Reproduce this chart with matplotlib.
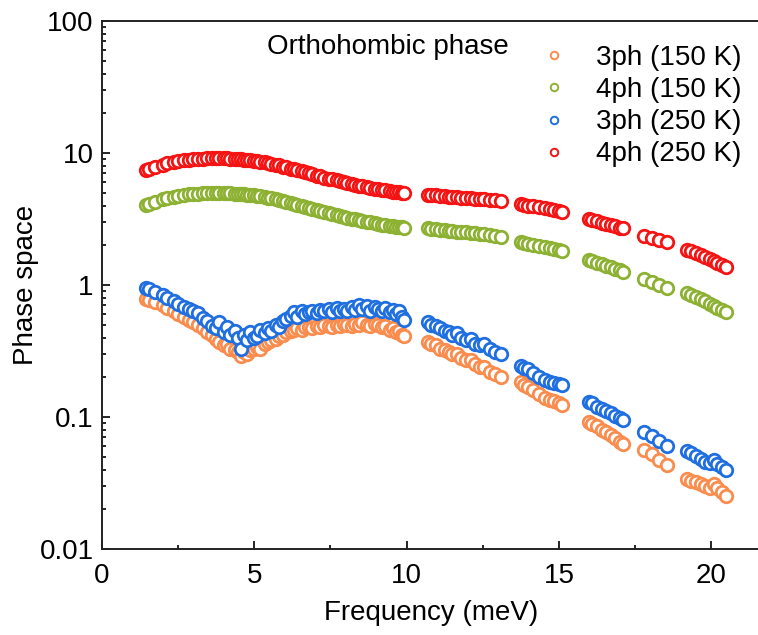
import matplotlib
matplotlib.use("Agg")
import matplotlib.pyplot as plt
import numpy as np
from matplotlib.ticker import LogLocator, MultipleLocator, NullFormatter, FixedFormatter, FixedLocator

plt.rcParams['font.family'] = ['Liberation Sans', 'DejaVu Sans']

# frequencies (meV), shared by all four series
freq = [1.45, 1.55, 1.75, 2.0, 2.15, 2.35, 2.5, 2.7, 2.85, 3.0,
        3.15, 3.3, 3.45, 3.6, 3.75, 3.85, 4.0, 4.1, 4.2, 4.35,
        4.45, 4.55, 4.65, 4.75, 4.85, 5.0, 5.1, 5.2, 5.35, 5.45,
        5.55, 5.7, 5.8, 5.95, 6.05, 6.2, 6.3, 6.4, 6.55, 6.65,
        6.8, 6.9, 7.05, 7.15, 7.3, 7.45, 7.55, 7.7, 7.8, 7.95,
        8.05, 8.2, 8.3, 8.45, 8.55, 8.7, 8.8, 8.95, 9.05, 9.2,
        9.3, 9.45, 9.55, 9.65, 9.75, 9.85, 9.9,
        10.7, 10.8, 10.95, 11.1, 11.25, 11.4, 11.5, 11.65, 11.8, 11.95,
        12.1, 12.25, 12.4, 12.55, 12.75, 12.9, 13.1,
        13.75, 13.85, 14.0, 14.15, 14.35, 14.55, 14.7, 14.85, 15.0, 15.1,
        16.0, 16.1, 16.25, 16.4, 16.55, 16.7, 16.85, 17.0, 17.1,
        17.8, 18.05, 18.3, 18.55,
        19.2, 19.35, 19.5, 19.65, 19.8, 19.95, 20.1, 20.2, 20.35, 20.5]

ph3_150 = [0.79, 0.77, 0.74, 0.71, 0.67, 0.63, 0.60, 0.57, 0.54, 0.52,
           0.50, 0.47, 0.44, 0.42, 0.39, 0.37, 0.35, 0.36, 0.33, 0.32,
           0.31, 0.29, 0.31, 0.30, 0.32, 0.33, 0.34, 0.33, 0.36, 0.37,
           0.38, 0.39, 0.41, 0.42, 0.44, 0.45, 0.46, 0.47, 0.46, 0.48,
           0.48, 0.47, 0.49, 0.48, 0.50, 0.49, 0.48, 0.50, 0.49, 0.51,
           0.50, 0.49, 0.51, 0.50, 0.52, 0.50, 0.49, 0.51, 0.50, 0.48,
           0.49, 0.46, 0.47, 0.44, 0.45, 0.42, 0.41,
           0.37, 0.36, 0.35, 0.33, 0.32, 0.31, 0.30, 0.30, 0.28, 0.27,
           0.27, 0.25, 0.24, 0.24, 0.22, 0.21, 0.20,
           0.185, 0.175, 0.17, 0.16, 0.15, 0.14, 0.135, 0.132, 0.128, 0.124,
           0.092, 0.088, 0.085, 0.08, 0.077, 0.073, 0.069, 0.065, 0.062,
           0.056, 0.052, 0.047, 0.043,
           0.034, 0.033, 0.032, 0.031, 0.030, 0.029, 0.031, 0.029, 0.027, 0.025]

ph4_150 = [4.05, 4.12, 4.29, 4.45, 4.56, 4.67, 4.73, 4.81, 4.86, 4.89,
           4.92, 4.95, 4.97, 4.97, 4.97, 4.97, 4.97, 4.97, 4.95, 4.92,
           4.89, 4.89, 4.86, 4.84, 4.81, 4.78, 4.75, 4.70, 4.64, 4.59,
           4.54, 4.45, 4.40, 4.32, 4.26, 4.15, 4.10, 4.04, 3.96, 3.91,
           3.83, 3.77, 3.69, 3.63, 3.55, 3.50, 3.44, 3.39, 3.33, 3.28,
           3.23, 3.18, 3.14, 3.09, 3.05, 3.01, 2.98, 2.94, 2.91, 2.87,
           2.84, 2.81, 2.79, 2.77, 2.75, 2.73, 2.72,
           2.68, 2.66, 2.64, 2.62, 2.60, 2.58, 2.56, 2.54, 2.52, 2.50,
           2.48, 2.46, 2.44, 2.42, 2.39, 2.37, 2.33,
           2.1, 2.08, 2.04, 2.01, 1.97, 1.93, 1.9, 1.86, 1.83, 1.8,
           1.55, 1.52, 1.48, 1.44, 1.4, 1.36, 1.32, 1.29, 1.26,
           1.12, 1.06, 1.0, 0.95,
           0.87, 0.84, 0.81, 0.78, 0.75, 0.72, 0.69, 0.67, 0.65, 0.62]

ph3_250 = [0.95, 0.93, 0.88, 0.84, 0.80, 0.76, 0.72, 0.68, 0.66, 0.63,
           0.61, 0.56, 0.53, 0.49, 0.47, 0.52, 0.44, 0.48, 0.42, 0.45,
           0.40, 0.33, 0.42, 0.38, 0.44, 0.40, 0.41, 0.46, 0.43, 0.47,
           0.45, 0.50, 0.48, 0.53, 0.55, 0.58, 0.62, 0.57, 0.63, 0.60,
           0.62, 0.64, 0.61, 0.65, 0.63, 0.66, 0.62, 0.67, 0.64, 0.66,
           0.63, 0.68, 0.65, 0.70, 0.66, 0.69, 0.64, 0.68, 0.66, 0.63,
           0.67, 0.62, 0.65, 0.60, 0.63, 0.57, 0.54,
           0.52, 0.50, 0.49, 0.47, 0.45, 0.44, 0.42, 0.43, 0.40, 0.38,
           0.39, 0.36, 0.35, 0.36, 0.33, 0.31, 0.30,
           0.245, 0.235, 0.23, 0.215, 0.2, 0.19, 0.185, 0.18, 0.178, 0.175,
           0.13, 0.128, 0.12, 0.115, 0.112, 0.107, 0.102, 0.098, 0.095,
           0.077, 0.072, 0.066, 0.06,
           0.055, 0.053, 0.051, 0.048, 0.046, 0.045, 0.047, 0.044, 0.042, 0.04]

ph4_250 = [7.4, 7.55, 7.85, 8.15, 8.35, 8.55, 8.65, 8.8, 8.9, 8.95,
           9.0, 9.05, 9.1, 9.1, 9.1, 9.1, 9.1, 9.1, 9.05, 9.0,
           8.95, 8.95, 8.9, 8.85, 8.8, 8.75, 8.7, 8.6, 8.5, 8.4,
           8.3, 8.15, 8.05, 7.9, 7.8, 7.6, 7.5, 7.4, 7.25, 7.15,
           7.0, 6.9, 6.75, 6.65, 6.5, 6.4, 6.3, 6.2, 6.1, 6.0,
           5.92, 5.82, 5.75, 5.65, 5.58, 5.5, 5.45, 5.38, 5.32, 5.25,
           5.2, 5.15, 5.1, 5.07, 5.03, 5.0, 4.98,
           4.82, 4.8, 4.77, 4.74, 4.71, 4.68, 4.66, 4.63, 4.6, 4.57,
           4.54, 4.51, 4.48, 4.45, 4.41, 4.38, 4.33,
           4.1, 4.07, 4.0, 3.95, 3.88, 3.8, 3.74, 3.68, 3.62, 3.57,
           3.15, 3.1, 3.03, 2.97, 2.9, 2.84, 2.78, 2.72, 2.68,
           2.35, 2.27, 2.19, 2.1,
           1.85, 1.8, 1.75, 1.7, 1.64, 1.58, 1.52, 1.48, 1.42, 1.36]

labels = ['3ph (150 K)', '4ph (150 K)', '3ph (250 K)', '4ph (250 K)']
colors = ['#FA8C4E', '#8DB132', '#1F6FE0', '#F41414']
series = [ph3_150, ph4_150, ph3_250, ph4_250]

fig = plt.figure(figsize=(7.58, 6.35), dpi=100)
ax = fig.add_axes([102/758, 86/635, (760-102)/758, 528/635])

handles = []
for y, c, lab in zip(series, colors, labels):
    h, = ax.plot(freq, y, 'o', ls='none', ms=9, mfc='white', mec=c, mew=2.0, label=lab)
    handles.append(h)

ax.set_yscale('log')
ax.set_ylim(0.01, 100)
ax.set_xlim(0, 21.6)
ax.yaxis.set_major_locator(FixedLocator([0.01, 0.1, 1, 10, 100]))
ax.yaxis.set_major_formatter(FixedFormatter(['0.01', '0.1', '1', '10', '100']))
ax.yaxis.set_minor_locator(LogLocator(base=10, subs=np.arange(2, 10), numticks=20))
ax.yaxis.set_minor_formatter(NullFormatter())
ax.xaxis.set_major_locator(MultipleLocator(5))
ax.xaxis.set_minor_locator(MultipleLocator(2.5))

ax.spines['right'].set_visible(False)
for s in ['left', 'bottom', 'top']:
    ax.spines[s].set_linewidth(1.4)
    ax.spines[s].set_color('#222222')
ax.tick_params(which='both', direction='in', top=False, right=False, labelsize=20, width=1.2)
ax.tick_params(which='major', length=6)
ax.tick_params(which='minor', length=3)
ax.tick_params(axis='y', pad=6)
ax.tick_params(axis='x', pad=10)

ax.set_xlabel('Frequency (meV)', fontsize=20, labelpad=8)
ax.set_ylabel('Phase space', fontsize=20)
ax.yaxis.set_label_coords(-0.095, 0.5)

fig.text(267/758, 1 - 47/635, 'Orthohombic phase', fontsize=20, ha='left', va='center')
leg = ax.legend(handles=handles, loc='upper left', bbox_to_anchor=(540/758, 1 - 45/635),
                bbox_transform=fig.transFigure, frameon=False, fontsize=20,
                handlelength=1.0, handletextpad=1.0, labelspacing=0.22,
                markerscale=0.6, borderpad=0, borderaxespad=0)
for lh in leg.legend_handles:
    lh.set_markeredgewidth(1.4)

fig.savefig('out.png', dpi=100)
